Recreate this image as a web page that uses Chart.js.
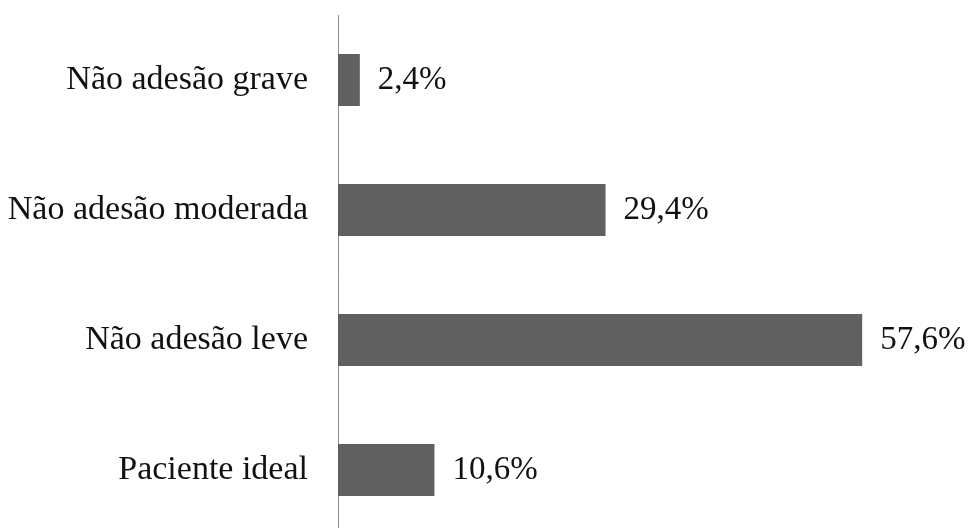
<!DOCTYPE html>
<html>
<head>
<meta charset="utf-8">
<script src="https://cdn.jsdelivr.net/npm/chart.js@4"></script>
<style>
  html, body { margin: 0; padding: 0; background: #fff; overflow: hidden; }
  #wrap { width: 968px; height: 535px; position: relative; }
</style>
</head>
<body>
<div id="wrap"><canvas id="adesaoChart"></canvas></div>
<script>
// Dados do gráfico
const categorias = ['Não adesão grave', 'Não adesão moderada', 'Não adesão leve', 'Paciente ideal'];
const percentuais = [2.4, 29.4, 57.6, 10.6];

const fonteSerif = '"Liberation Serif", "Times New Roman", serif';

// Rótulos de valor no final de cada barra
const rotulosPlugin = {
    id: 'rotulos',
    afterDatasetsDraw(chart) {
        const ctx = chart.ctx;
        const meta = chart.getDatasetMeta(0);
        ctx.save();
        ctx.font = '33px ' + fonteSerif;
        ctx.fillStyle = '#111';
        ctx.textAlign = 'left';
        ctx.textBaseline = 'middle';
        meta.data.forEach(function(bar, i) {
            const texto = percentuais[i].toFixed(1).replace('.', ',') + '%';
            ctx.fillText(texto, bar.x + 18, bar.y);
        });
        ctx.restore();
    }
};

const config = {
    type: 'bar',
    data: {
        labels: categorias,
        datasets: [{
            data: percentuais,
            backgroundColor: '#606060',
            borderWidth: 0,
            categoryPercentage: 1,
            barPercentage: 0.4
        }]
    },
    options: {
        indexAxis: 'y',
        responsive: true,
        maintainAspectRatio: false,
        animation: false,
        layout: { padding: { top: 15, right: 84, left: 0, bottom: 0 } },
        plugins: {
            legend: { display: false },
            tooltip: { enabled: false }
        },
        scales: {
            x: {
                display: false,
                min: 0,
                max: 60
            },
            y: {
                afterFit: function(scale) {
                    scale.width = 338;
                    scale.paddingTop = 0;
                    scale.paddingBottom = 0;
                },
                grid: { display: false, drawTicks: false },
                border: { display: true, color: '#8c8c8c', width: 1 },
                ticks: {
                    padding: 30,
                    color: '#111',
                    font: { family: fonteSerif, size: 34 }
                }
            }
        }
    },
    plugins: [rotulosPlugin]
};

new Chart(document.getElementById('adesaoChart'), config);
</script>
</body>
</html>
